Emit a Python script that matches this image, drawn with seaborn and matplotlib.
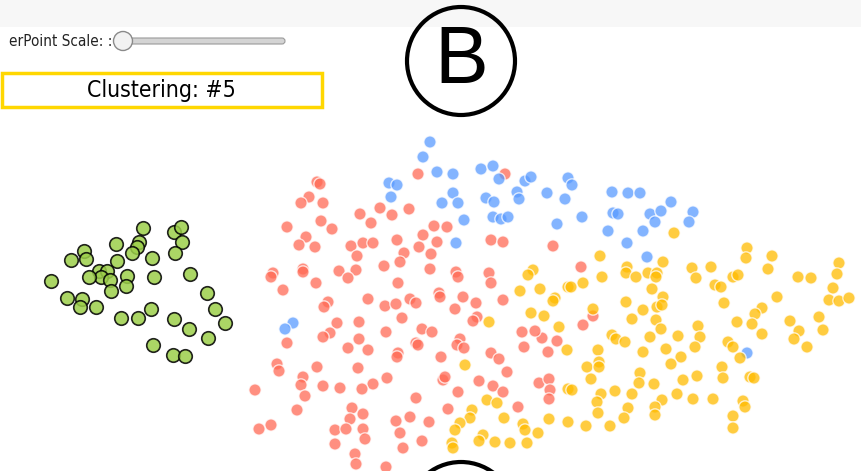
import matplotlib
matplotlib.use("Agg")
import matplotlib.pyplot as plt
from matplotlib.patches import Circle, Rectangle, FancyBboxPatch
import numpy as np
import pandas as pd
import seaborn as sns

# cluster points (pixel coordinates)
red_x = [418, 505, 317, 320, 309, 301, 323, 321, 332, 287, 306, 299, 315, 360, 371, 380, 392, 409,
         351, 363, 373, 357, 397, 404, 400, 384, 356, 339, 348, 316, 303, 303, 273, 271, 283, 398,
         434, 447, 423, 437, 419, 431, 430, 456, 458, 491, 503, 489, 491, 553, 328, 324, 368, 385,
         396, 410, 416, 439, 440, 463, 455, 476, 503, 402, 477, 473, 337, 359, 581, 583, 593, 557,
         548, 542, 330, 323, 287, 359, 348, 368, 386, 422, 432, 416, 418, 398, 397, 441, 460, 457,
         464, 491, 499, 507, 522, 535, 524, 277, 279, 317, 303, 301, 305, 323, 340, 358, 387, 373,
         362, 255, 297, 271, 259, 352, 350, 363, 335, 346, 363, 335, 365, 355, 356, 386, 443, 445,
         458, 479, 493, 503, 448, 416, 410, 396, 400, 429, 403, 422, 518, 539, 549, 550, 549]
red_y = [174, 174, 182, 184, 197, 203, 203, 221, 229, 227, 237, 245, 247, 214, 223, 208, 215, 209,
         246, 243, 243, 256, 240, 253, 262, 266, 270, 271, 278, 283, 269, 272, 273, 277, 290, 283,
         226, 227, 235, 242, 247, 254, 269, 272, 277, 240, 242, 273, 283, 246, 302, 307, 299, 306,
         304, 299, 303, 293, 297, 297, 309, 303, 300, 318, 317, 321, 323, 322, 267, 325, 316, 341,
         352, 338, 333, 337, 343, 339, 348, 350, 332, 329, 332, 343, 345, 353, 357, 357, 339, 345,
         348, 353, 359, 372, 332, 331, 347, 364, 371, 367, 377, 385, 396, 386, 388, 368, 378, 384,
         389, 390, 410, 425, 429, 408, 419, 414, 430, 429, 429, 444, 439, 454, 464, 467, 380, 377,
         392, 381, 386, 392, 409, 398, 417, 421, 433, 422, 448, 441, 407, 383, 379, 390, 399]

blue_x = [430, 423, 437, 453, 389, 397, 391, 453, 442, 458, 464, 456, 481, 493, 499, 525, 531, 486,
          494, 517, 519, 493, 501, 508, 547, 565, 568, 557, 293, 285, 572, 582, 612, 628, 640, 613,
          618, 608, 627, 643, 647, 650, 655, 661, 671, 693, 689, 747]
blue_y = [142, 157, 172, 174, 183, 185, 197, 193, 203, 203, 220, 243, 169, 166, 179, 181, 177, 198,
          202, 192, 199, 217, 219, 217, 193, 199, 178, 224, 323, 329, 185, 217, 192, 193, 193, 213,
          214, 231, 243, 231, 257, 214, 222, 211, 202, 212, 222, 353]

yellow_x = [533, 528, 540, 520, 555, 553, 568, 531, 544, 489, 559, 674, 600, 602, 583, 571, 567, 627,
            626, 636, 648, 657, 656, 663, 652, 663, 657, 662, 626, 643, 632, 656, 661, 593, 612, 616,
            625, 650, 678, 666, 643, 681, 671, 598, 599, 587, 599, 692, 696, 711, 715, 721, 724, 733,
            738, 747, 746, 772, 768, 777, 762, 755, 752, 762, 737, 698, 700, 695, 728, 733, 740, 722,
            798, 811, 839, 837, 833, 829, 839, 849, 819, 823, 790, 799, 794, 807, 465, 487, 497, 472,
            470, 460, 455, 504, 483, 479, 452, 453, 495, 510, 527, 523, 525, 538, 549, 568, 568, 591,
            572, 601, 597, 598, 615, 628, 624, 632, 610, 586, 640, 639, 654, 662, 655, 655, 677, 683,
            697, 693, 713, 723, 750, 754, 743, 745, 733, 733]
yellow_y = [270, 275, 289, 291, 298, 301, 287, 313, 316, 322, 327, 233, 256, 277, 283, 287, 350, 267,
            273, 277, 273, 273, 277, 262, 289, 297, 307, 305, 302, 310, 319, 320, 329, 309, 335, 339,
            342, 337, 336, 349, 352, 357, 364, 350, 362, 367, 367, 268, 278, 267, 285, 287, 303, 277,
            275, 248, 258, 256, 269, 297, 308, 314, 324, 334, 322, 326, 337, 347, 342, 347, 358, 367,
            277, 278, 263, 274, 288, 300, 301, 298, 317, 330, 321, 331, 339, 347, 365, 400, 403, 410,
            418, 423, 430, 418, 435, 441, 443, 448, 442, 443, 443, 424, 430, 433, 419, 389, 422, 379,
            390, 394, 402, 413, 391, 408, 418, 394, 426, 426, 373, 383, 384, 400, 407, 415, 394, 380,
            376, 399, 399, 378, 377, 378, 401, 407, 416, 428]

green_x = [143, 174, 181, 182, 175, 116, 139, 137, 132, 84, 86, 71, 117, 152, 99, 107, 101, 110, 89,
           127, 126, 111, 154, 190, 51, 67, 82, 80, 96, 207, 215, 225, 151, 121, 138, 174, 189, 208,
           153, 173, 185]
green_y = [228, 232, 227, 242, 253, 244, 242, 247, 253, 251, 259, 260, 261, 258, 271, 271, 277, 280,
           277, 276, 286, 291, 277, 274, 281, 298, 299, 307, 307, 293, 309, 323, 309, 318, 318, 319,
           329, 338, 345, 355, 356]

clusters = pd.DataFrame({
    "x": red_x + blue_x + yellow_x,
    "y": red_y + blue_y + yellow_y,
    "cluster": ["red"] * len(red_x) + ["blue"] * len(blue_x) + ["yellow"] * len(yellow_x),
})
selected = pd.DataFrame({"x": green_x, "y": green_y})

palette = {"red": "#ff6a55", "blue": "#5a9bff", "yellow": "#ffbb00"}

sns.set_style("white")
fig = plt.figure(figsize=(8.61, 4.71), dpi=100)
ax = fig.add_axes([0, 0, 1, 1])
ax.set_xlim(0, 861)
ax.set_ylim(471, 0)
ax.axis("off")

sns.scatterplot(data=clusters, x="x", y="y", hue="cluster", palette=palette, s=78,
                alpha=0.75, edgecolor="white", linewidth=1, legend=False, ax=ax)
sns.scatterplot(data=selected, x="x", y="y", color="#9ccf4a", s=95, alpha=0.85,
                edgecolor="black", linewidth=1.2, legend=False, ax=ax)

# page chrome: top bar, slider, label box, circled letters
ax.add_patch(Rectangle((0, 0), 861, 27, facecolor="#f7f7f7", edgecolor="none", zorder=0))
ax.text(112, 41, "erPoint Scale: :", ha="right", va="center", fontsize=11,
        family="DejaVu Sans", fontstretch="condensed", color="#222222")
ax.add_patch(FancyBboxPatch((123, 38), 162, 6, boxstyle="round,pad=0,rounding_size=3",
                            facecolor="#d4d4d4", edgecolor="#9a9a9a", linewidth=0.8))
ax.add_patch(Circle((123, 41), 9.5, facecolor="#f2f2f2", edgecolor="#8a8a8a", linewidth=1))
ax.add_patch(Rectangle((2, 73), 320, 34, facecolor="white", edgecolor="#ffd700", linewidth=2.5))
ax.text(161, 91, "Clustering: #5", ha="center", va="center", fontsize=16.5,
        family="DejaVu Sans", fontstretch="condensed", color="black")

ax.add_patch(Circle((461, 61), 54, facecolor="none", edgecolor="black", linewidth=3))
ax.text(461, 62, "B", ha="center", va="center", fontsize=58,
        family="Liberation Sans", color="black")
ax.add_patch(Circle((461, 516), 54, facecolor="none", edgecolor="black", linewidth=3))

fig.savefig("out.png", dpi=100)
